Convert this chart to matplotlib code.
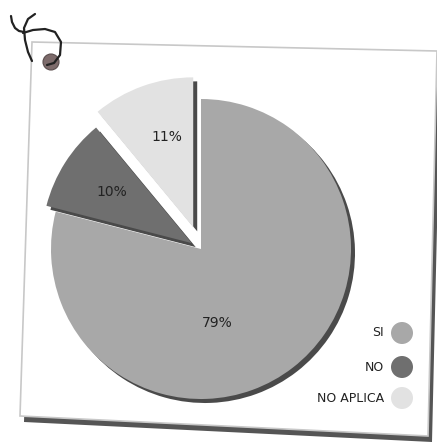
import matplotlib
matplotlib.use("Agg")
import matplotlib.pyplot as plt
from matplotlib.patches import Polygon, Circle

# data
labels = ["SI", "NO", "NO APLICA"]
values = [79, 10, 11]
colors = ["#a8a8a8", "#6f6f6f", "#e2e2e2"]
shadow_colors = ["#4a4a4a", "#4a4a4a", "#4a4a4a"]
explode = [0, 11, 23]  # pie() offsets in data units here (axes in pixels)

W, H = 437, 444
fig = plt.figure(figsize=(W / 100, H / 100), dpi=100)
ax = fig.add_axes([0, 0, 1, 1])

def py(y):
    # pixel y (from top) -> data y
    return H - y

# tilted card with shadow
card = [(32, 42), (437, 51), (428, 436), (20, 416)]
shadow = [(36, 48), (441, 55), (432, 442), (24, 422)]
ax.add_patch(Polygon([(x, py(y)) for x, y in shadow], closed=True,
                     facecolor="#555555", edgecolor="none", zorder=1))
ax.add_patch(Polygon([(x, py(y)) for x, y in card], closed=True,
                     facecolor="white", edgecolor="#c8c8c8", lw=1.2, zorder=2))

# pin + handwriting
ax.add_patch(Circle((51, py(62)), 8, facecolor="#7d6b6b", edgecolor="#5a4d4d",
                    lw=0.8, zorder=5))
strokes = [
    [(11, 16), (12, 22), (15, 28), (19, 31), (24, 32)],
    [(35, 14), (28, 19), (24, 28), (25, 40), (28, 52), (32, 61)],
    [(23, 33), (33, 30), (45, 29), (55, 32), (61, 42), (60, 55), (54, 63), (47, 65)],
]
for s in strokes:
    ax.plot([p[0] for p in s], [py(p[1]) for p in s], color="#222222", lw=1.6,
            solid_capstyle="round", solid_joinstyle="round", zorder=6)

cx, cy, r = 201, py(249), 150

# pie shadow
ax.pie(values, colors=shadow_colors, explode=explode, startangle=90,
       counterclock=False, radius=r, center=(cx + 4, cy - 4),
       wedgeprops=dict(linewidth=0, zorder=3), frame=True)

wedges, texts, autotexts = ax.pie(
    values, colors=colors, explode=explode, startangle=90, counterclock=False,
    radius=r, center=(cx, cy), autopct="%1.0f%%", pctdistance=0.63,
    wedgeprops=dict(linewidth=0, zorder=4), frame=True,
    textprops=dict(fontsize=10, color="#222222", zorder=7))
autotexts[0].set_position((217, py(323)))
autotexts[2].set_position((167, py(137)))

ax.set_xlim(0, W)
ax.set_ylim(0, H)
ax.set_aspect("equal")
ax.axis("off")

# legend
leg_y = [333, 367, 398]
for lab, col, yy in zip(labels, colors, leg_y):
    ax.add_patch(Circle((402, py(yy)), 11, facecolor=col, edgecolor="none", zorder=5))
    ax.text(384, py(yy), lab, ha="right", va="center", fontsize=9,
            color="#222222", zorder=7)

fig.savefig("out.png", dpi=100)
